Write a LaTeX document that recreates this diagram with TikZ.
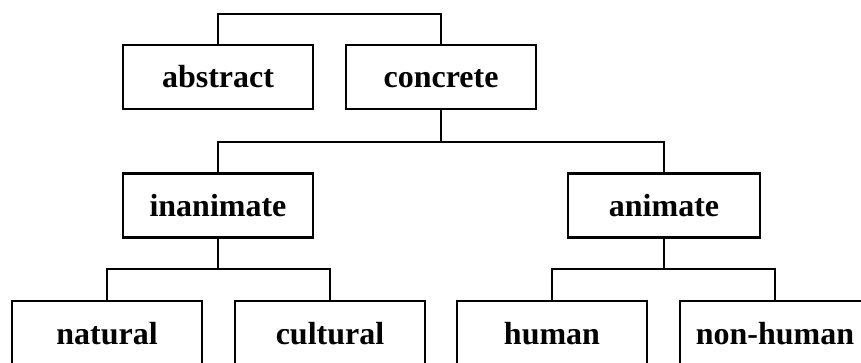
\documentclass[tikz,border=0pt]{standalone}
\usepackage{fontspec}
\setmainfont{Liberation Serif}
\begin{document}
\begin{tikzpicture}[x=1pt,y=-1pt,
  catbox/.style={draw, line width=2.8pt, minimum width=190pt, minimum height=64pt,
    inner sep=0pt, text height=22pt, text depth=0pt,
    font=\fontsize{32}{38}\selectfont\bfseries},
  link/.style={line width=2.8pt}]
  \clip (0,0) rectangle (861,363);
  \fill[white] (0,0) rectangle (861,363);

  % level 1
  \node[catbox] (abstract) at (218,77) {abstract};
  \node[catbox] (concrete) at (441,77) {concrete};
  % level 2
  \node[catbox] (inanimate) at (218,205.5) {inanimate};
  \node[catbox, minimum width=192pt] (animate) at (664,205.5) {animate};
  % level 3
  \node[catbox] (natural) at (107,333) {natural};
  \node[catbox] (cultural) at (330,333) {cultural};
  \node[catbox] (human) at (552,333) {human};
  \node[catbox] (nonhuman) at (775,333) {non-human};

  % junction points of the bracket connectors
  \coordinate (top) at (330,14);
  \coordinate (jc) at (441,142);
  \coordinate (ji) at (218,269);
  \coordinate (ja) at (664,269);

  \draw[link] (abstract.north) |- (top) -| (concrete.north);
  \draw[link] (concrete.south) -- (jc);
  \draw[link] (inanimate.north) |- (jc) -| (animate.north);
  \draw[link] (inanimate.south) -- (ji);
  \draw[link] (natural.north) |- (ji) -| (cultural.north);
  \draw[link] (animate.south) -- (ja);
  \draw[link] (human.north) |- (ja) -| (nonhuman.north);
\end{tikzpicture}
\end{document}
